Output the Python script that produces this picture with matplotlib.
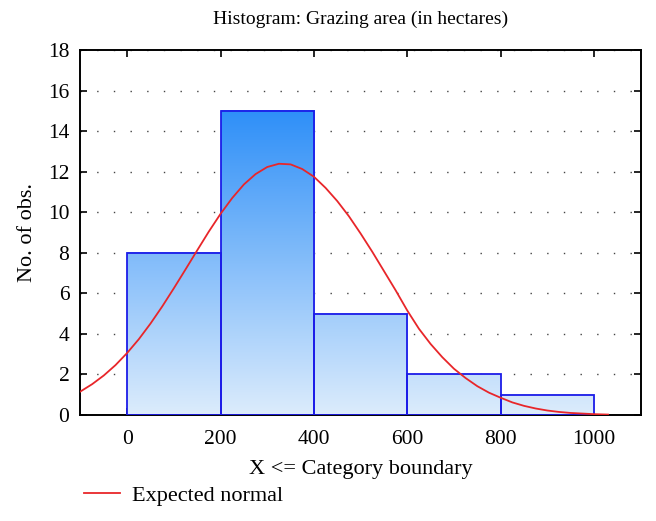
import numpy as np
import matplotlib
matplotlib.use("Agg")
import matplotlib.pyplot as plt
from matplotlib.colors import LinearSegmentedColormap
from matplotlib.lines import Line2D

# ---- data ----
bin_edges = [0, 200, 400, 600, 800, 1000]
counts = [8, 15, 5, 2, 1]

curve_x = [-100, -75, -50, -25, 0, 25, 50, 75, 100, 125, 150, 175, 200, 225, 250,
           275, 300, 325, 350, 375, 400, 425, 450, 475, 500, 525, 550, 575, 600,
           625, 650, 675, 700, 725, 750, 775, 800, 825, 850, 875, 900, 925, 950,
           975, 1000, 1030]
curve_y = [1.16, 1.52, 1.95, 2.46, 3.06, 3.74, 4.51, 5.35, 6.25, 7.18, 8.12, 9.05,
           9.92, 10.70, 11.37, 11.88, 12.23, 12.39, 12.36, 12.13, 11.75, 11.20,
           10.55, 9.80, 8.95, 8.05, 7.10, 6.15, 5.15, 4.25, 3.50, 2.85, 2.28, 1.82,
           1.42, 1.10, 0.85, 0.62, 0.45, 0.32, 0.22, 0.15, 0.10, 0.07, 0.04, 0.02]

title = "Histogram: Grazing area (in hectares)"
xlabel = "X <= Category boundary"
ylabel = "No. of obs."
legend_label = "Expected normal"
xticks = [0, 200, 400, 600, 800, 1000]
yticks = [0, 2, 4, 6, 8, 10, 12, 14, 16, 18]

plt.rcParams['font.family'] = ['Liberation Serif', 'DejaVu Serif']

fig = plt.figure(figsize=(6.56, 5.21), dpi=100)
ax = fig.add_axes([0.1227, 0.2035, 0.854, 0.7005])

cmap = LinearSegmentedColormap.from_list("barfill", ["#dcecfc", "#2e8ff8"])
vmax = max(counts)
for i, h in enumerate(counts):
    x0, x1 = bin_edges[i], bin_edges[i + 1]
    grad = np.linspace(0, h, 256).reshape(-1, 1)
    ax.imshow(grad, extent=[x0, x1, 0, h], origin="lower", aspect="auto",
              cmap=cmap, vmin=0, vmax=vmax, zorder=2, interpolation="bilinear")
widths = np.diff(bin_edges)
ax.bar(bin_edges[:-1], counts, width=widths, align="edge", facecolor="none",
       edgecolor="#1c1ce8", linewidth=1.3, zorder=3)

ax.plot(curve_x, curve_y, color="#e8262a", linewidth=1.3, zorder=4)

ax.set_xlim(-100, 1100)
ax.set_ylim(0, 18)
ax.set_xticks(xticks)
ax.set_yticks(yticks)
ax.tick_params(direction="in", length=5, width=1.2, labelsize=15.5,
               top=True, right=True, pad=8)
ax.tick_params(axis="x", pad=11)
for s in ax.spines.values():
    s.set_linewidth(1.4)
ax.set_axisbelow(True)
ax.yaxis.grid(True, linestyle=(0, (1, 11)), color="#444444", linewidth=1.0, zorder=1)

ax.set_title(title, fontsize=14, pad=19)
ax.set_xlabel(xlabel, fontsize=16, labelpad=8)
ax.set_ylabel(ylabel, fontsize=16, labelpad=8)

handle = Line2D([], [], color="#e8262a", linewidth=1.3)
fig.legend([handle], [legend_label], loc="center left",
           bbox_to_anchor=(0.128, 0.048), frameon=False, fontsize=16,
           handlelength=1.6, handletextpad=0.55, borderpad=0, borderaxespad=0)

fig.savefig("out.png", dpi=100)
